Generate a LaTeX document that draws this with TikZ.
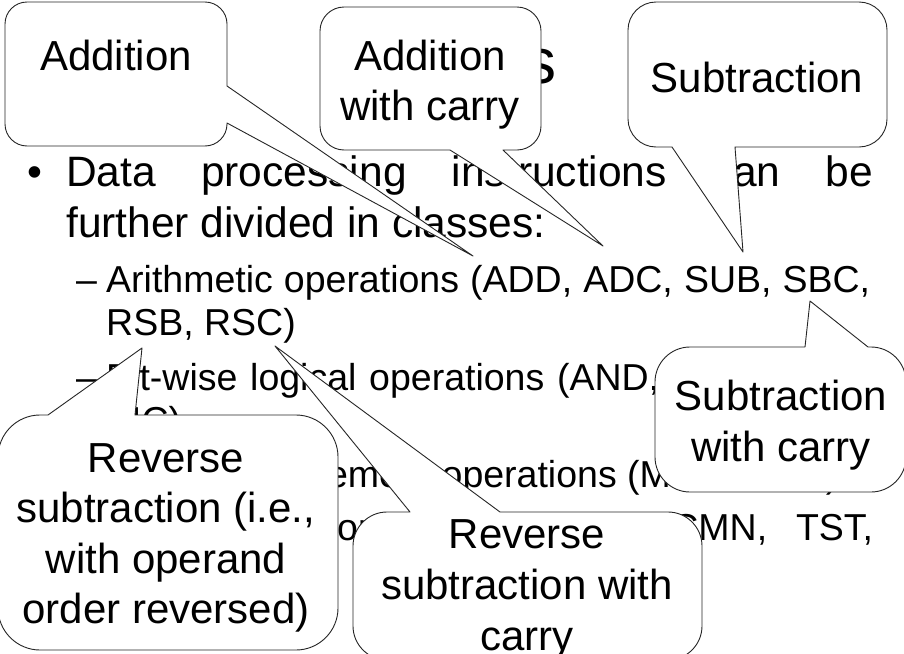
\documentclass[tikz,border=0pt]{standalone}
\usepackage{fontspec}
\setmainfont{Liberation Sans}

\tikzset{
  bubble/.style={fill=white, draw=black!85, line width=0.9pt, line join=round},
  calltext/.style={font=\fontsize{42}{50}\selectfont, anchor=base, inner sep=0pt},
  bodyline/.style={font=\fontsize{42.5}{50}\selectfont, anchor=base west, inner sep=0pt},
  subline/.style={font=\fontsize{37.5}{45}\selectfont, anchor=base west, inner sep=0pt},
  titleline/.style={font=\fontsize{64}{70}\selectfont, anchor=base east, inner sep=0pt},
}

% Rounded speech box. #1,#2 = top-left corner, #3,#4 = bottom-right corner,
% #5 = corner radius, #6,#7 = where the pointer leaves the edge, #8 = pointer tip.
\newcommand\bubbleBottom[8]{%
  \filldraw[bubble] ({#1+#5},#2) -- ({#3-#5},#2)
    .. controls ({#3-0.45*#5},#2) and (#3,{#2+0.45*#5}) .. (#3,{#2+#5})
    -- (#3,{#4-#5})
    .. controls (#3,{#4-0.45*#5}) and ({#3-0.45*#5},#4) .. ({#3-#5},#4)
    -- (#7,#4) -- #8 -- (#6,#4) -- ({#1+#5},#4)
    .. controls ({#1+0.45*#5},#4) and (#1,{#4-0.45*#5}) .. (#1,{#4-#5})
    -- (#1,{#2+#5})
    .. controls (#1,{#2+0.45*#5}) and ({#1+0.45*#5},#2) .. ({#1+#5},#2) -- cycle;}
\newcommand\bubbleTop[8]{%
  \filldraw[bubble] ({#1+#5},#2) -- (#6,#2) -- #8 -- (#7,#2) -- ({#3-#5},#2)
    .. controls ({#3-0.45*#5},#2) and (#3,{#2+0.45*#5}) .. (#3,{#2+#5})
    -- (#3,{#4-#5})
    .. controls (#3,{#4-0.45*#5}) and ({#3-0.45*#5},#4) .. ({#3-#5},#4)
    -- ({#1+#5},#4)
    .. controls ({#1+0.45*#5},#4) and (#1,{#4-0.45*#5}) .. (#1,{#4-#5})
    -- (#1,{#2+#5})
    .. controls (#1,{#2+0.45*#5}) and ({#1+0.45*#5},#2) .. ({#1+#5},#2) -- cycle;}
\newcommand\bubbleRight[8]{%
  \filldraw[bubble] ({#1+#5},#2) -- ({#3-#5},#2)
    .. controls ({#3-0.45*#5},#2) and (#3,{#2+0.45*#5}) .. (#3,{#2+#5})
    -- (#3,#6) -- #8 -- (#3,#7) -- (#3,{#4-#5})
    .. controls (#3,{#4-0.45*#5}) and ({#3-0.45*#5},#4) .. ({#3-#5},#4)
    -- ({#1+#5},#4)
    .. controls ({#1+0.45*#5},#4) and (#1,{#4-0.45*#5}) .. (#1,{#4-#5})
    -- (#1,{#2+#5})
    .. controls (#1,{#2+0.45*#5}) and ({#1+0.45*#5},#2) .. ({#1+#5},#2) -- cycle;}

\begin{document}
\begin{tikzpicture}[x=1pt, y=-1pt]
\fill[white] (0,0) rectangle (904,653);
\useasboundingbox (0,0) rectangle (904,653);

% slide title and bullet list
\node[titleline] (title) at (557,83) {s};

\node[bodyline] (dot) at (27,186) {•};
\node[bodyline] (l1) at (66,186) {\makebox[807pt][s]{Data processing instructions can be}};
\node[bodyline] (l2) at (66,237) {further divided in classes:};

\node[subline] (d1) at (76,292) {–};
\node[subline] (a1) at (106,292) {\makebox[764pt][s]{Arithmetic operations (ADD, ADC, SUB, SBC,}};
\node[subline] (a2) at (106,335) {RSB, RSC)};
\node[subline] (d2) at (76,390) {–};
\node[subline] (b1) at (106,390) {\makebox[764pt][s]{Bit-wise logical operations (AND, EOR, ORR,}};
\node[subline] (b2) at (106,433) {BIC)};
\node[subline] (d3) at (76,487) {–};
\node[subline] (r1) at (106,487) {Register movement operations (MOV, MVN)};
\node[subline] (d4) at (76,540) {–};
\node[subline] (c1) at (106,540) {\makebox[767pt][s]{Comparison operations (CMP, CMN, TST,}};

% speech boxes naming each instruction
\bubbleRight{5}{2}{227}{146}{22}{86}{123}{(473,256)}
\node[calltext] (add) at (116,70) {Addition};

\bubbleBottom{320}{7}{541}{150}{24}{450}{503}{(603,246)}
\node[calltext] (adc1) at (430,70) {Addition};
\node[calltext] (adc2) at (430,120) {with carry};

\bubbleBottom{628}{2}{887}{147}{28}{672}{735}{(743,252)}
\node[calltext] (sub) at (757,92) {Subtraction};

\bubbleTop{655}{347}{906}{492}{35}{805}{868}{(810,301)}
\node[calltext] (sbc1) at (781,410) {Subtraction};
\node[calltext] (sbc2) at (781,461) {with carry};

\bubbleTop{-2}{415}{338}{650}{42}{48}{135}{(142,348)}
\node[calltext] (rsb1) at (166,472) {Reverse};
\node[calltext] (rsb2) at (166,522) {subtraction (i.e.,};
\node[calltext] (rsb3) at (166,573) {with operand};
\node[calltext] (rsb4) at (166,623) {order reversed)};

\bubbleTop{353}{512}{702}{660}{34}{410}{500}{(275,346)}
\node[calltext] (rsc1) at (527,548) {Reverse};
\node[calltext] (rsc2) at (527,599) {subtraction with};
\node[calltext] (rsc3) at (527,650) {carry};
\end{tikzpicture}
\end{document}
